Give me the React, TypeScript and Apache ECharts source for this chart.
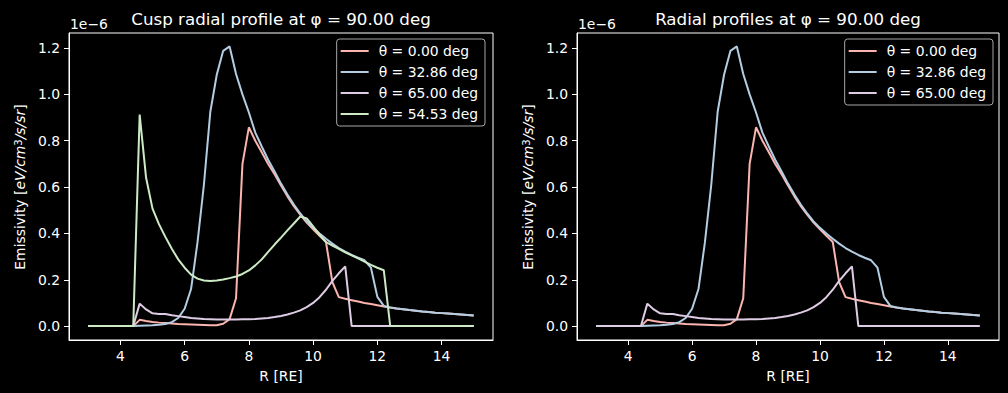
import React, { useEffect, useRef } from "react";
import * as echarts from "echarts";

const R = [
  3.0, 3.2, 3.4, 3.6, 3.8, 4.0, 4.2, 4.4, 4.6, 4.8, 5.0, 5.2, 5.4, 5.6, 5.8, 6.0,
  6.2, 6.4, 6.6, 6.8, 7.0, 7.2, 7.4, 7.6, 7.8, 8.0, 8.2, 8.4, 8.6, 8.8, 9.0, 9.2,
  9.4, 9.6, 9.8, 10.0, 10.2, 10.4, 10.6, 10.8, 11.0, 11.2, 11.4, 11.6, 11.8, 12.0,
  12.2, 12.4, 12.6, 12.8, 13.0, 13.2, 13.4, 13.6, 13.8, 14.0, 14.2, 14.4, 14.6,
  14.8, 15.0,
];

// values in units of 1e-6
const theta000 = [
  0, 0, 0, 0, 0, 0, 0, 0, 0.027, 0.022, 0.018, 0.015, 0.013, 0.011, 0.009, 0.008,
  0.007, 0.006, 0.005, 0.004, 0.004, 0.01, 0.03, 0.12, 0.7, 0.858, 0.8, 0.75, 0.7,
  0.655, 0.607, 0.56, 0.518, 0.481, 0.447, 0.418, 0.39, 0.363, 0.19, 0.125, 0.118,
  0.112, 0.106, 0.1, 0.095, 0.09, 0.085, 0.08, 0.076, 0.073, 0.069, 0.066, 0.063,
  0.061, 0.058, 0.056, 0.054, 0.052, 0.05, 0.048, 0.046,
];

const theta3286 = [
  0, 0, 0, 0, 0, 0, 0, 0, 0.002, 0.003, 0.004, 0.006, 0.009, 0.017, 0.035, 0.075,
  0.16, 0.36, 0.61, 0.925, 1.085, 1.188, 1.207, 1.088, 1.0, 0.922, 0.835, 0.775,
  0.718, 0.667, 0.615, 0.568, 0.525, 0.486, 0.452, 0.424, 0.4, 0.377, 0.356, 0.337,
  0.321, 0.307, 0.295, 0.284, 0.252, 0.126, 0.087, 0.08, 0.076, 0.073, 0.069,
  0.066, 0.063, 0.061, 0.058, 0.056, 0.054, 0.052, 0.05, 0.048, 0.046,
];

const theta6500 = [
  0, 0, 0, 0, 0, 0, 0, 0, 0.097, 0.072, 0.055, 0.052, 0.052, 0.047, 0.043, 0.039,
  0.035, 0.033, 0.031, 0.03, 0.029, 0.029, 0.029, 0.029, 0.03, 0.03, 0.031, 0.033,
  0.035, 0.039, 0.044, 0.05, 0.058, 0.068, 0.082, 0.1, 0.125, 0.157, 0.195, 0.228,
  0.258, 0, 0, 0, 0, 0, 0, 0, 0, 0, 0, 0, 0, 0, 0, 0, 0, 0, 0, 0, 0,
];

const theta5453 = [
  0, 0, 0, 0, 0, 0, 0, 0, 0.913, 0.64, 0.507, 0.44, 0.385, 0.334, 0.288, 0.252,
  0.222, 0.205, 0.197, 0.195, 0.197, 0.201, 0.207, 0.214, 0.225, 0.24, 0.262,
  0.288, 0.32, 0.352, 0.382, 0.413, 0.443, 0.473, 0.465, 0.43, 0.395, 0.363, 0.347,
  0.333, 0.318, 0.305, 0.292, 0.278, 0.264, 0.252, 0.241, 0, 0, 0, 0, 0, 0, 0, 0,
  0, 0, 0, 0, 0, 0,
];

const names = ["θ = 0.00 deg", "θ = 32.86 deg", "θ = 65.00 deg", "θ = 54.53 deg"];
const colors = ["#fbb4ae", "#b3cde3", "#decbe4", "#ccebc5"];
const leftSeries = [theta000, theta3286, theta6500, theta5453];
const rightSeries = [theta000, theta3286, theta6500];

const xTicks = [4, 6, 8, 10, 12, 14];
const yTicks = [0, 0.2, 0.4, 0.6, 0.8, 1.0, 1.2];

const titles = ["Cusp radial profile at φ = 90.00 deg", "Radial profiles at φ = 90.00 deg"];
const xLabel = "R [RE]";
const offsetLabel = "1e\u22126";

const FONT = "DejaVu Sans";

export default function App() {
  const ref = useRef<HTMLDivElement>(null);

  useEffect(() => {
    document.body.style.margin = "0";
    document.body.style.background = "#000";
    if (!ref.current) return;
    const chart = echarts.init(ref.current, null, { renderer: "svg" });

    const grids = [
      { left: 69, top: 33, width: 424, height: 307 },
      { left: 577, top: 33, width: 422, height: 307 },
    ];

    const xAxisBase = (gi: number) => ({
      type: "value",
      gridIndex: gi,
      min: 2.4,
      max: 15.6,
      splitLine: { show: false },
      axisLine: { show: true, onZero: false, lineStyle: { color: "#fff", width: 1 } },
      axisTick: { show: true, length: 5, lineStyle: { color: "#fff" }, customValues: xTicks },
      axisLabel: {
        color: "#fff",
        fontSize: 13.9,
        fontFamily: FONT,
        margin: 9,
        customValues: xTicks,
        formatter: (v: number) => String(v),
      },
    });
    const yAxisBase = (gi: number) => ({
      type: "value",
      gridIndex: gi,
      min: -0.06,
      max: 1.265,
      splitLine: { show: false },
      axisLine: { show: true, onZero: false, lineStyle: { color: "#fff", width: 1 } },
      axisTick: { show: true, length: 5, lineStyle: { color: "#fff" }, customValues: yTicks },
      axisLabel: {
        color: "#fff",
        fontSize: 13.9,
        fontFamily: FONT,
        margin: 9,
        customValues: yTicks,
        formatter: (v: number) => v.toFixed(1),
      },
    });

    const mkSeries = (arr: number[], i: number, gi: number) => ({
      type: "line",
      name: names[i],
      xAxisIndex: gi,
      yAxisIndex: gi,
      data: R.map((r, k) => [r, arr[k]]),
      symbol: "none",
      showSymbol: false,
      lineStyle: { color: colors[i], width: 2 },
      itemStyle: { color: colors[i] },
      emphasis: { disabled: true },
      silent: true,
      z: 2 + i,
    });

    const legendBase = {
      orient: "vertical",
      top: 39,
      icon: "rect",
      itemWidth: 28,
      itemHeight: 2,
      itemGap: 7,
      padding: [5, 7, 5, 4],
      backgroundColor: "rgba(0,0,0,0.8)",
      borderColor: "#a6a6a6",
      borderWidth: 1,
      borderRadius: 3,
      selectedMode: false,
      textStyle: { color: "#fff", fontSize: 13.9, fontFamily: FONT, padding: [0, 0, 0, 5], lineHeight: 14 },
      z: 10,
    };

    const yName = "Emissivity [{i|eV/cm}{s|3}{i|/s/sr}]";
    const rich = {
      i: { fontStyle: "italic", fontSize: 13.9, fontFamily: FONT, fill: "#fff", color: "#fff" },
      s: { fontSize: 10, fontFamily: FONT, fill: "#fff", color: "#fff", verticalAlign: "top", lineHeight: 10 },
    };

    const graphic: any[] = [];
    grids.forEach((g, gi) => {
      const cx = g.left + g.width / 2;
      graphic.push({
        type: "text",
        x: cx,
        y: 18.5,
        silent: true,
        style: { text: titles[gi], fill: "#fff", fontSize: 16.7, fontFamily: FONT, align: "center", verticalAlign: "middle" },
      });
      graphic.push({
        type: "text",
        x: g.left + 1,
        y: 31,
        silent: true,
        style: { text: offsetLabel, fill: "#fff", fontSize: 13.9, fontFamily: FONT, align: "left", verticalAlign: "bottom" },
      });
      graphic.push({
        type: "text",
        x: cx,
        y: 376,
        silent: true,
        style: { text: xLabel, fill: "#fff", fontSize: 13.9, fontFamily: FONT, align: "center", verticalAlign: "middle" },
      });
      graphic.push({
        type: "text",
        x: g.left - 49,
        y: 187,
        rotation: Math.PI / 2,
        silent: true,
        style: {
          text: yName,
          fill: "#fff",
          fontSize: 13.9,
          fontFamily: FONT,
          align: "center",
          verticalAlign: "middle",
          rich,
        },
      });
    });

    const option: any = {
      animation: false,
      backgroundColor: "#000",
      grid: grids.map((g) => ({
        ...g,
        show: true,
        borderColor: "#fff",
        borderWidth: 1,
        backgroundColor: "transparent",
        containLabel: false,
        outerBoundsMode: "none",
      })),
      xAxis: [xAxisBase(0), xAxisBase(1)],
      yAxis: [yAxisBase(0), yAxisBase(1)],
      legend: [
        { ...legendBase, data: names.slice(0, 4), right: 1008 - 485 },
        { ...legendBase, data: names.slice(0, 3), right: 1008 - 993 },
      ],
      series: [
        ...leftSeries.map((a, i) => mkSeries(a, i, 0)),
        ...rightSeries.map((a, i) => mkSeries(a, i, 1)),
      ],
      graphic,
      tooltip: { show: false },
    };

    chart.setOption(option);
    return () => chart.dispose();
  }, []);

  return <div ref={ref} style={{ width: 1008, height: 393, background: "#000" }} />;
}
